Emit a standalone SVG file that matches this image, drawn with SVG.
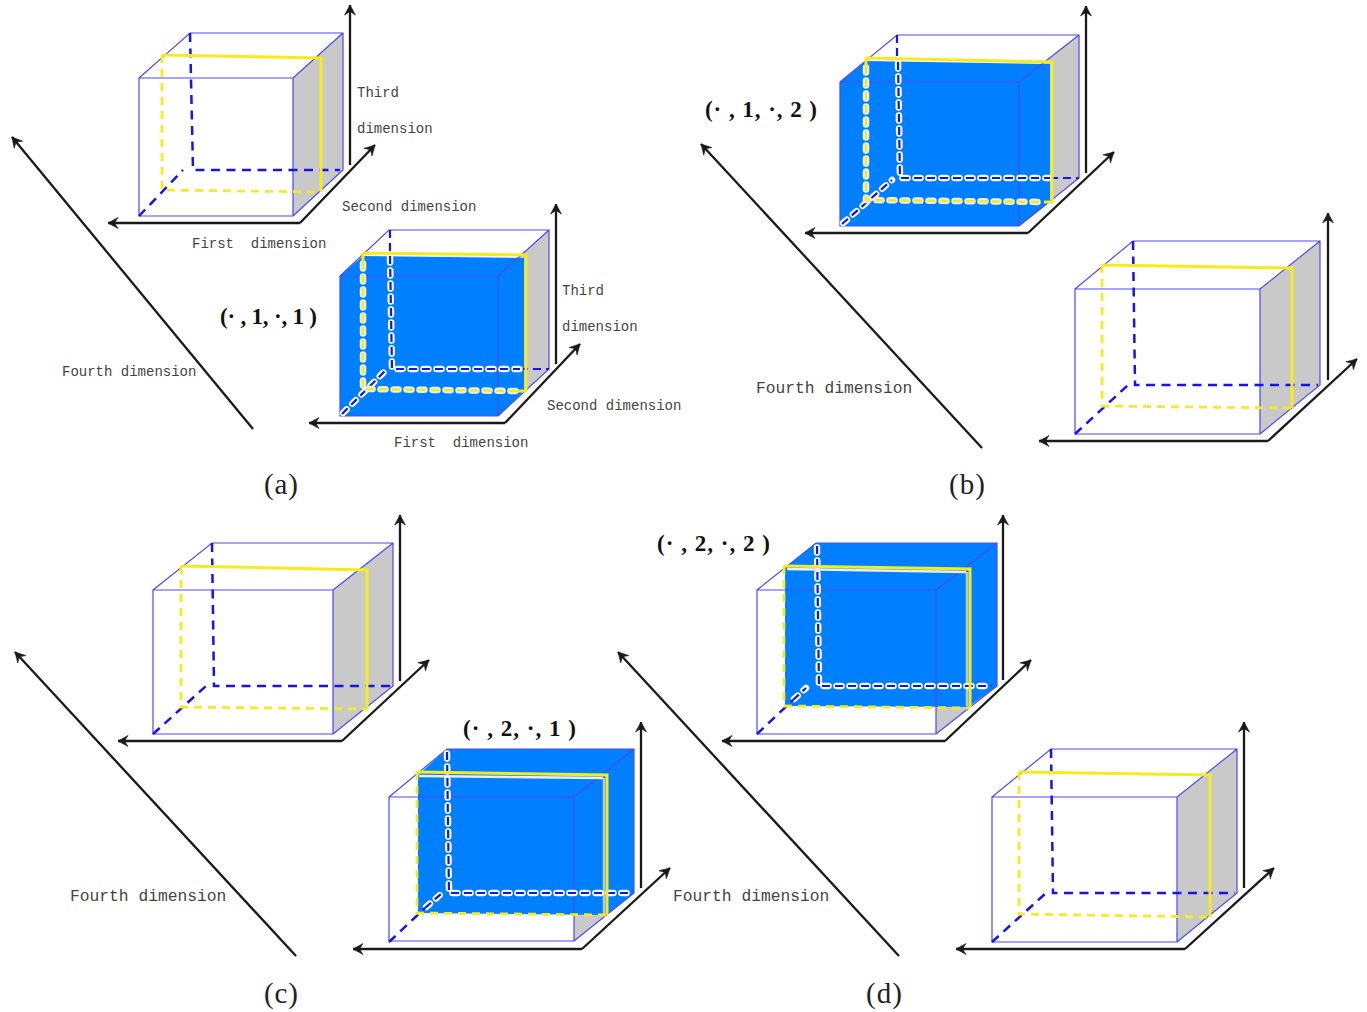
<svg xmlns="http://www.w3.org/2000/svg" width="1367" height="1012" viewBox="0 0 1367 1012">
<style>
text{white-space:pre}
.g{fill:#c9c9c9;stroke:none}
.b{fill:#0080ff;stroke:none}
.w{fill:none;stroke:#4a4af5;stroke-width:1.2}
.h{fill:none;stroke:#fff;stroke-width:6.5;stroke-dasharray:5 8;stroke-dashoffset:-1.5;stroke-linecap:round}
.ih{fill:none;stroke:#1414f0;stroke-width:2.2;stroke-dasharray:8 5}
.d{fill:none;stroke:#1414f0;stroke-width:2.5;stroke-dasharray:9 6.5}
.yh{fill:none;stroke:#eee;stroke-width:6.5;stroke-dasharray:5 8;stroke-dashoffset:-1.5;stroke-linecap:round}
.yi{fill:none;stroke:#f5ec1e;stroke-width:2.6;stroke-dasharray:8 5}
.yd{fill:none;stroke:#f5ec1e;stroke-width:2.8;stroke-dasharray:8 6}
.y{fill:none;stroke:#f5ec1e;stroke-width:3}
.sh{fill:none;stroke:#c4c4c4;stroke-width:2.5}
.wh{fill:none;stroke:#eee;stroke-width:2.5}
.a{fill:none;stroke:#1a1a1a;stroke-width:2.3;marker-end:url(#ah)}
.t{font-family:"Liberation Mono",monospace;font-size:14px;fill:#444}
.f{font-family:"Liberation Mono",monospace;font-size:16.3px;fill:#444}
.m{font-family:"Liberation Serif",serif;font-weight:bold;font-size:23px;fill:#111}
.c{font-family:"Liberation Serif",serif;font-size:29px;fill:#222}
</style>
<defs>
<marker id="ah" markerUnits="userSpaceOnUse" markerWidth="16" markerHeight="16" refX="12" refY="8" orient="auto">
<path d="M2,2.5 L12,8 L2,13.5 L5.5,8 Z" fill="#1a1a1a" stroke="#1a1a1a" stroke-width="0.6"/>
</marker>
</defs>

<g id="cube-a1">
<polygon class="g" points="293,78 343,33 343,170 293,216"/>
<path class="w" d="M139,78H293V216H139ZM139,78L190,33H343V170L293,216M293,78L343,33"/>
<path class="d" d="M190,33L193,170H340M139,216L183,170"/>
<path class="yd" d="M162,55V190L321,192"/>
<path class="y" d="M162,55L321,58V192"/>
</g>
<g id="cube-a2">
<polygon class="g" points="498,276 549,230 549,369 498,416"/>
<polygon class="b" points="340,276 363,256 524,258 524,391 498,416 340,416"/>
<path class="w" d="M340,276H498V416H340ZM340,276L389,230H549V369L498,416M498,276L549,230"/>
<path class="ih" d="M390,230V256"/>
<path class="ih" d="M520,369H549"/>
<path class="h" d="M390,256L392,369H520M342,414L385,371"/>
<path class="ih" d="M390,256L392,369H520M342,414L385,371"/>
<path class="yh" d="M363,262V389L517,391"/>
<path class="yi" d="M363,262V389L517,391"/>
<path class="y" d="M363,253L526,255V391H517M363,253V262"/>
</g>
<g id="cube-b1">
<polygon class="g" points="1019,82 1079,35 1079,178 1019,226"/>
<polygon class="b" points="840,82 866,61 1050,64 1050,202 1019,226 840,226"/>
<path class="w" d="M840,82H1019V226H840ZM840,82L897,35H1079V178L1019,226M1019,82L1079,35"/>
<path class="ih" d="M897,35V62"/>
<path class="ih" d="M1050,178H1079"/>
<path class="h" d="M898,62L900,178H1050M842,224L892,180"/>
<path class="ih" d="M898,62L900,178H1050M842,224L892,180"/>
<path class="yh" d="M866,66V200L1044,202"/>
<path class="yi" d="M866,66V200L1044,202"/>
<path class="y" d="M866,58L1052,62V202H1044M866,58V66"/>
</g>
<g id="cube-b2">
<polygon class="g" points="1260,289 1320,241 1320,385 1260,434"/>
<path class="w" d="M1075,289H1260V434H1075ZM1075,289L1133,241H1320V385L1260,434M1260,289L1320,241"/>
<path class="d" d="M1133,241L1135,385H1318M1075,434L1128,385"/>
<path class="yd" d="M1102,265V406L1292,408"/>
<path class="y" d="M1102,265L1292,268V408"/>
</g>
<g id="cube-c1">
<polygon class="g" points="333,590 393,543 393,686 333,734"/>
<path class="w" d="M153,590H333V734H153ZM153,590L212,543H393V686L333,734M333,590L393,543"/>
<path class="d" d="M212,543L214,686H390M153,734L206,686"/>
<path class="yd" d="M181,566V707L367,709"/>
<path class="y" d="M181,566L367,570V709"/>
</g>
<g id="cube-c2">
<polygon class="g" points="574,797 634,749 634,893 574,941"/>
<polygon class="b" points="418,775 447,749 634,749 634,893 606,915 418,913"/>
<path class="w" d="M389,797H574V941H389ZM389,797L447,749H634V893L574,941M574,797L634,749"/>
<path class="wh" d="M419,776L603,778"/>
<path class="sh" d="M604,778V914"/>
<path class="h" d="M447,752L449,893H632M425,908L441,894"/>
<path class="ih" d="M447,752L449,893H632M425,908L441,894"/>
<path class="d" d="M389,942L425,908"/>
<path class="yd" d="M417,772V913L607,915"/>
<path class="y" d="M417,772L607,775V915"/>
</g>
<g id="cube-d1">
<polygon class="g" points="936,590 997,543 997,686 936,734"/>
<polygon class="b" points="785,568 816,543 997,543 997,686 968,707 785,706"/>
<path class="w" d="M757,590H936V734H757ZM757,590L816,543H997V686L936,734M936,590L997,543"/>
<path class="wh" d="M787,569L966,572"/>
<path class="sh" d="M967,572V706"/>
<path class="h" d="M817,546L819,686H992M793,700L806,688"/>
<path class="ih" d="M817,546L819,686H992M793,700L806,688"/>
<path class="d" d="M757,734L793,700"/>
<path class="yd" d="M784,566V706L970,708"/>
<path class="y" d="M784,566L970,569V708"/>
</g>
<g id="cube-d2">
<polygon class="g" points="1177,797 1237,749 1237,893 1177,942"/>
<path class="w" d="M992,797H1177V942H992ZM992,797L1051,749H1237V893L1177,942M1177,797L1237,749"/>
<path class="d" d="M1051,749L1053,893H1235M992,942L1046,893"/>
<path class="yd" d="M1019,772V914L1210,917"/>
<path class="y" d="M1019,772L1210,775V917"/>
</g>

<g id="connectors">
<path class="a" d="M300,223H108"/><path class="a" d="M300,223L375,145"/><path class="a" d="M350,165V5"/><path class="a" d="M253,429L12,137"/>
<path class="a" d="M505,423H309"/><path class="a" d="M505,423L580,344"/><path class="a" d="M556,364V204"/>
<path class="a" d="M1028,233H805"/><path class="a" d="M1028,233L1114,152"/><path class="a" d="M1086,173V6"/><path class="a" d="M982,448L701,144"/>
<path class="a" d="M1268,441H1039"/><path class="a" d="M1268,441L1357,359"/><path class="a" d="M1328,380V213"/>
<path class="a" d="M342,741H118"/><path class="a" d="M342,741L429,660"/><path class="a" d="M400,681V515"/><path class="a" d="M296,956L15,652"/>
<path class="a" d="M582,949H353"/><path class="a" d="M582,949L670,868"/><path class="a" d="M641,888V722"/>
<path class="a" d="M945,741H722"/><path class="a" d="M945,741L1031,660"/><path class="a" d="M1003,680V515"/><path class="a" d="M899,956L618,652"/>
<path class="a" d="M1185,949H956"/><path class="a" d="M1185,949L1274,868"/><path class="a" d="M1244,888V722"/>
</g>

<g id="labels">
<text class="t" x="357" y="97">Third</text>
<text class="t" x="357" y="133">dimension</text>
<text class="t" x="342" y="211">Second dimension</text>
<text class="t" x="192" y="248">First  dimension</text>
<text class="t" x="62" y="376">Fourth dimension</text>
<text class="t" x="562" y="295">Third</text>
<text class="t" x="562" y="331">dimension</text>
<text class="t" x="547" y="410">Second dimension</text>
<text class="t" x="394" y="447">First  dimension</text>
<text class="f" x="756" y="393">Fourth dimension</text>
<text class="f" x="70" y="901">Fourth dimension</text>
<text class="f" x="673" y="901">Fourth dimension</text>
<text class="m" x="220" y="324" textLength="97">(· , 1, ·, 1 )</text>
<text class="m" x="705" y="117" textLength="112">(· , 1, ·, 2 )</text>
<text class="m" x="463" y="736" textLength="113">(· , 2, ·, 1 )</text>
<text class="m" x="657" y="551" textLength="113">(· , 2, ·, 2 )</text>
<text class="c" x="264" y="494" textLength="34">(a)</text>
<text class="c" x="949" y="494" textLength="36">(b)</text>
<text class="c" x="264" y="1003" textLength="34">(c)</text>
<text class="c" x="866" y="1003" textLength="36">(d)</text>
</g>
</svg>
